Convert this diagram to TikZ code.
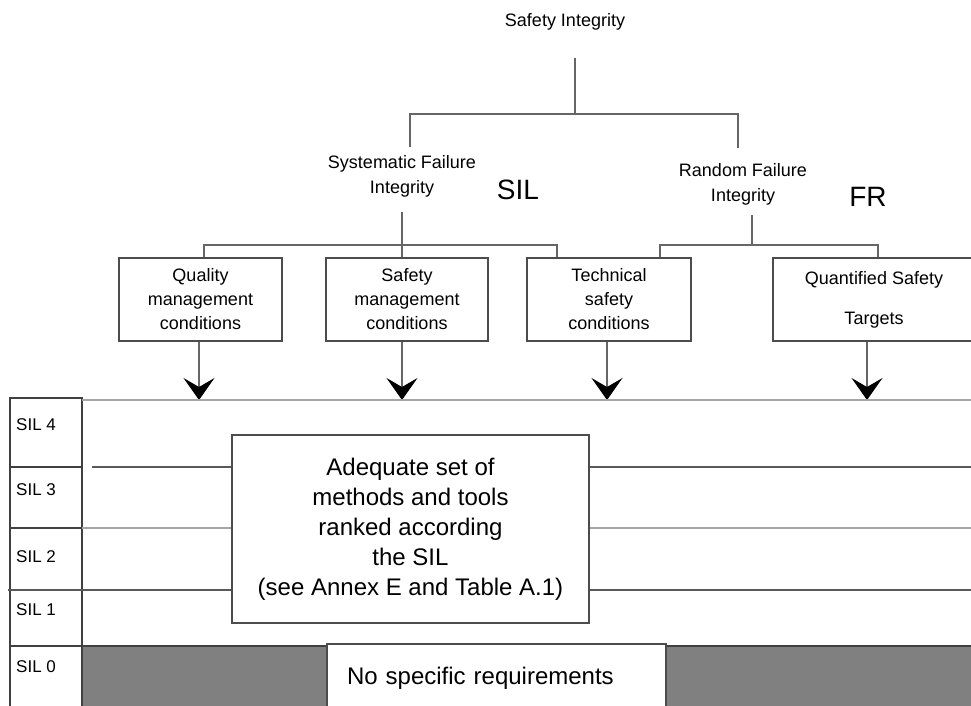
\documentclass[tikz,border=0pt]{standalone}
\usepackage{fontspec}
\setmainfont{Liberation Sans}
\usetikzlibrary{arrows.meta}

\tikzset{
  wire/.style={draw=black!60, line width=1.2pt},
  box/.style={draw=black!70, line width=1.4pt, inner sep=0pt, align=center, font=\fontsize{18}{24}\selectfont},
  lab/.style={inner sep=0pt, align=center, font=\fontsize{18}{25}\selectfont},
  big/.style={inner sep=0pt, font=\fontsize{28}{30}\selectfont},
  arr/.style={wire, -{Stealth[length=22pt,width=31pt,inset=9pt,black]}},
  cell/.style={draw=black!75, line width=1.3pt},
  rule/.style={draw=black!65, line width=1.2pt},
  pale/.style={draw=black!35, line width=2.2pt}
}

\begin{document}
\begin{tikzpicture}[x=1pt,y=-1pt]
\useasboundingbox (0,0) rectangle (971,706);
\node[lab] (top) at (565,22) {Safety Integrity};
\node[lab] (sfi) at (402,176) {Systematic Failure\\Integrity};
\node[lab] (rfi) at (743,184) {Random Failure\\Integrity};
\node[big] (sil) at (518,190) {SIL};
\node[big] (fr) at (868,197) {FR};
\coordinate (j1) at (575,114);
\coordinate (j3) at (752,245);
\coordinate (lvl) at (82,400);

\node[box, minimum width=163, minimum height=83] (qm) at (200.5,299.5) {Quality\\management\\conditions};
\node[box, minimum width=162, minimum height=83] (sm) at (407,299.5) {Safety\\management\\conditions};
\node[box, minimum width=164, minimum height=83] (ts) at (609,299.5) {Technical\\safety\\conditions};
\node[box, minimum width=202, minimum height=83] (qs) at (874,299.5) {Quantified Safety\\[16pt]Targets};

\draw[wire, shorten <=27pt] (j1 |- top.south) -- (j1);
\draw[wire] ([xshift=8pt,yshift=8pt]sfi.north) |- (j1) -| ([xshift=-5pt,yshift=15pt]rfi.north);
\draw[wire, shorten <=15pt] (sfi.south) -- (sfi.south |- sm.north);
\draw[wire] ([xshift=3.5pt]qm.north) |- (sfi.south |- 0,245) -| ([xshift=-52pt]ts.north);
\draw[wire, shorten <=10pt] (j3 |- rfi.south) -- (j3);
\draw[wire] ([xshift=51pt]ts.north) |- (j3) -| ([xshift=4pt]qs.north);

\draw[arr] ([xshift=-1.5pt]qm.south) -- ([xshift=-1.5pt]qm.south |- lvl);
\draw[arr] ([xshift=-5pt]sm.south) -- ([xshift=-5pt]sm.south |- lvl);
\draw[arr] ([xshift=-2pt]ts.south) -- ([xshift=-2pt]ts.south |- lvl);
\draw[arr] ([xshift=-7pt]qs.south) -- ([xshift=-7pt]qs.south |- lvl);

\fill[black!50] (82,646) rectangle (975,712);
\draw[cell] (82,646) -- (975,646);
\foreach \n/\t/\b/\l in {4/398/467/425,3/467/528/490,2/528/590/557,1/590/646/610,0/646/712/667}{
  \draw[cell] (10,\t) rectangle (82,\b);
  \node[lab, anchor=west, font=\fontsize{17}{20}\selectfont] (sil\n) at (16,\l) {SIL \n};
}
\draw[pale] (lvl) -- (975,400);

\node[box, fill=white, minimum width=357, minimum height=188, font=\fontsize{24}{30}\selectfont] (adq) at (410.5,529) {Adequate set of\\methods and tools\\ranked according\\the SIL\\(see Annex E and Table A.1)};
\draw[rule] (92,467) -- (adq.west |- 0,467) (adq.east |- 0,467) -- (975,467);
\draw[pale] (82,528) -- (adq.west |- 0,528) (adq.east |- 0,528) -- (975,528);
\draw[rule] (8,590) -- (adq.west |- 0,590) (adq.east |- 0,590) -- (975,590);

\node[box, fill=white, minimum width=339, minimum height=68, text width=299, inner xsep=20pt, align=left, font=\fontsize{24}{30}\selectfont] (nsr) at (496.5,678) {No specific requirements};
\end{tikzpicture}
\end{document}
